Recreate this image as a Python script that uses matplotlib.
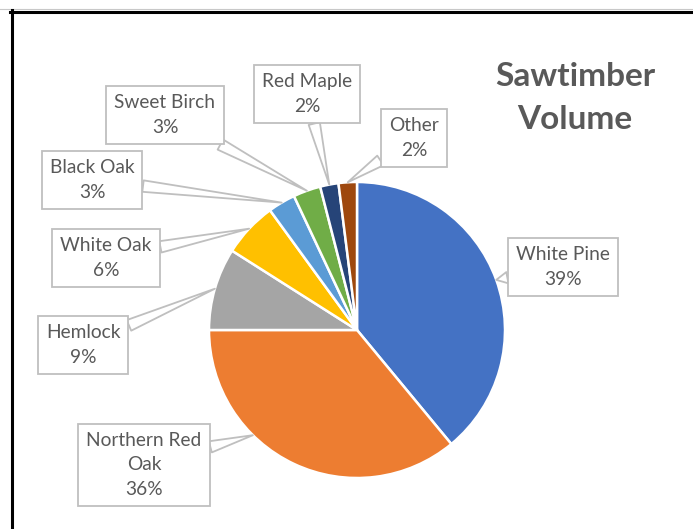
import numpy as np
import matplotlib.pyplot as plt
from matplotlib.lines import Line2D

species = ["White Pine", "Northern Red Oak", "Hemlock", "White Oak",
           "Black Oak", "Sweet Birch", "Red Maple", "Other"]
label_text = ["White Pine", "Northern Red\nOak", "Hemlock", "White Oak",
              "Black Oak", "Sweet Birch", "Red Maple", "Other"]
percent = [39, 36, 9, 6, 3, 3, 2, 2]
colors = ["#4472C4", "#ED7D31", "#A5A5A5", "#FFC000",
          "#5B9BD5", "#70AD47", "#264478", "#9E480E"]

W, H = 693, 529
# label box centres in pixels (from top-left)
box_px = [(563, 267), (144, 465), (83, 345), (106, 258),
          (92, 180), (165, 115), (307, 94), (414, 138)]

plt.rcParams["font.family"] = ["Lato", "DejaVu Sans"]
text_col = "#595959"
edge_col = "#BFBFBF"

fig = plt.figure(figsize=(W / 100, H / 100), dpi=100)
cx, cy, r = 357, 330, 148
ax = fig.add_axes([(cx - r) / W, (H - cy - r) / H, 2 * r / W, 2 * r / H])

ax.pie(percent, colors=colors, startangle=90, counterclock=False,
       wedgeprops=dict(edgecolor="white", linewidth=1.8))
ax.set_xlim(-1, 1)
ax.set_ylim(-1, 1)

# pointer angles: mid-angle of each slice, except where excel picks a nearer spot
cum = np.cumsum([0] + percent)
mids = 90 - (cum[:-1] + cum[1:]) / 2 / 100 * 360
mids[1] = -134.7

for i, name in enumerate(species):
    a = np.deg2rad(mids[i])
    bx, by = box_px[i]
    ax.annotate(f"{label_text[i]}\n{percent[i]}%",
                xy=(np.cos(a), np.sin(a)), xycoords="data",
                xytext=(bx / W, 1 - by / H), textcoords="figure fraction",
                ha="center", va="center", multialignment="center",
                fontsize=13.8, color=text_col, linespacing=1.55,
                bbox=dict(boxstyle="square,pad=0.42", fc="white",
                          ec=edge_col, lw=1.3),
                arrowprops=dict(arrowstyle="wedge,tail_width=0.6,shrink_factor=0.5",
                                fc="white", ec=edge_col, lw=1.3,
                                shrinkA=0, shrinkB=0),
                annotation_clip=False)

fig.text(575 / W, 1 - 98 / H, "Sawtimber\nVolume", ha="center", va="center",
         fontsize=24, weight="bold", color=text_col, linespacing=1.55)

# chart frame (cropped on the right and bottom)
fig.add_artist(Line2D([0, W], [H - 9, H - 9], transform=None, color="#C8C8C8", lw=0.8))
fig.add_artist(Line2D([10, W], [H - 11.5, H - 11.5], transform=None, color="black", lw=2.2))
fig.add_artist(Line2D([11.5, 11.5], [0, H - 10], transform=None, color="black", lw=2.2))

fig.savefig("out.png", dpi=100)
